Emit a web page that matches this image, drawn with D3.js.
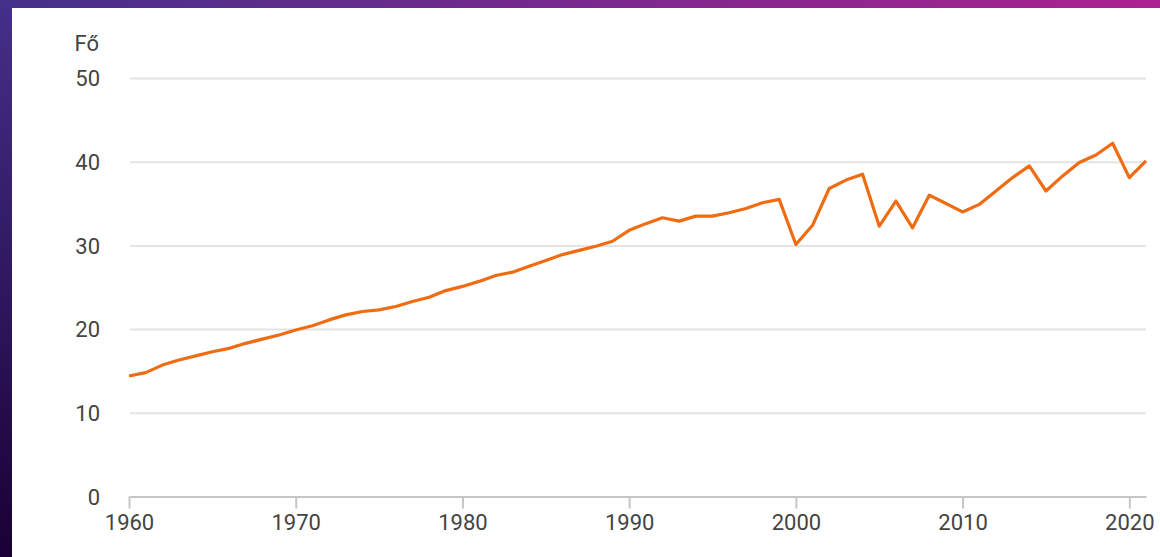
<!DOCTYPE html>
<html>
<head>
    <meta charset="utf-8">
    <title>Fő</title>
    <script src="https://d3js.org/d3.v7.min.js"></script>
    <style>
        html, body { margin: 0; padding: 0; }
        body {
            width: 1160px; height: 557px; overflow: hidden;
            background: linear-gradient(to top right, #190034 0%, #45308a 50%, #ad2290 100%);
        }
        #chart { position: absolute; left: 12px; top: 8px; width: 1148px; height: 549px; background: #fff; }
        .grid line { stroke: #e4e4e4; stroke-width: 2px; }
        .tick text { font-family: Roboto, Arial, sans-serif; font-size: 22px; fill: #444; }
        .line { fill: none; stroke: #ef6c12; stroke-width: 3.2px; stroke-linejoin: round; }
    </style>
</head>
<body>
    <div id="chart"></div>
    <script>
        // Fő, 1960-2021
        const years = d3.range(1960, 2022);
        const values = [
            14.4, 14.8, 15.7, 16.3, 16.8, 17.3, 17.7, 18.3, 18.8, 19.3,
            19.9, 20.4, 21.1, 21.7, 22.1, 22.3, 22.7, 23.3, 23.8, 24.6,
            25.1, 25.7, 26.4, 26.8, 27.5, 28.2, 28.9, 29.4, 29.9, 30.5,
            31.8, 32.6, 33.3, 32.9, 33.5, 33.5, 33.9, 34.4, 35.1, 35.5,
            30.1, 32.4, 36.8, 37.8, 38.5, 32.3, 35.3, 32.1, 36.0, 35.0,
            34.0, 34.9, 36.5, 38.1, 39.5, 36.5, 38.3, 39.9, 40.8, 42.2,
            38.1, 40.1
        ];
        const yTicks = [0, 10, 20, 30, 40, 50];
        const xTicks = [1960, 1970, 1980, 1990, 2000, 2010, 2020];

        const width = 1148, height = 549;
        const margin = { left: 117, right: 14, top: 70, bottom: 60 };

        const svg = d3.select("#chart").append("svg")
            .attr("width", width)
            .attr("height", height);

        const x = d3.scaleLinear()
            .domain([1960, 2021])
            .range([margin.left, width - margin.right]);
        const y = d3.scaleLinear()
            .domain([0, 50])
            .range([height - margin.bottom - 0.5, margin.top]);

        // horizontal grid + y labels
        const yAxis = svg.append("g")
            .attr("class", "grid")
            .attr("transform", `translate(${margin.left + 1},0)`)
            .call(d3.axisLeft(y).tickValues(yTicks)
                .tickSize(-(width - margin.right - margin.left - 1))
                .tickPadding(30));
        yAxis.select(".domain").remove();
        yAxis.selectAll(".tick").filter(d => d === 0).select("line").remove();
        yAxis.selectAll(".tick text").attr("dy", "0.35em");

        svg.append("text")
            .attr("x", margin.left - 30)
            .attr("y", y(50) - 35)
            .attr("dy", "0.35em")
            .attr("text-anchor", "end")
            .style("font-family", "Roboto, Arial, sans-serif")
            .style("font-size", "22px")
            .style("fill", "#444")
            .text("Fő");

        // x axis
        const xAxis = svg.append("g")
            .attr("transform", `translate(0,${y(0)})`)
            .call(d3.axisBottom(x).tickValues(xTicks).tickFormat(d3.format("d"))
                .tickSize(12).tickSizeOuter(0).tickPadding(6));
        xAxis.select(".domain").attr("stroke", "#c6c6c6").attr("stroke-width", 2);
        xAxis.selectAll(".tick line").attr("stroke", "#c6c6c6").attr("stroke-width", 2);

        // line
        const line = d3.line()
            .x((d, i) => x(years[i]))
            .y(d => y(d));

        svg.append("path")
            .datum(values)
            .attr("class", "line")
            .attr("d", line);
    </script>
</body>
</html>
